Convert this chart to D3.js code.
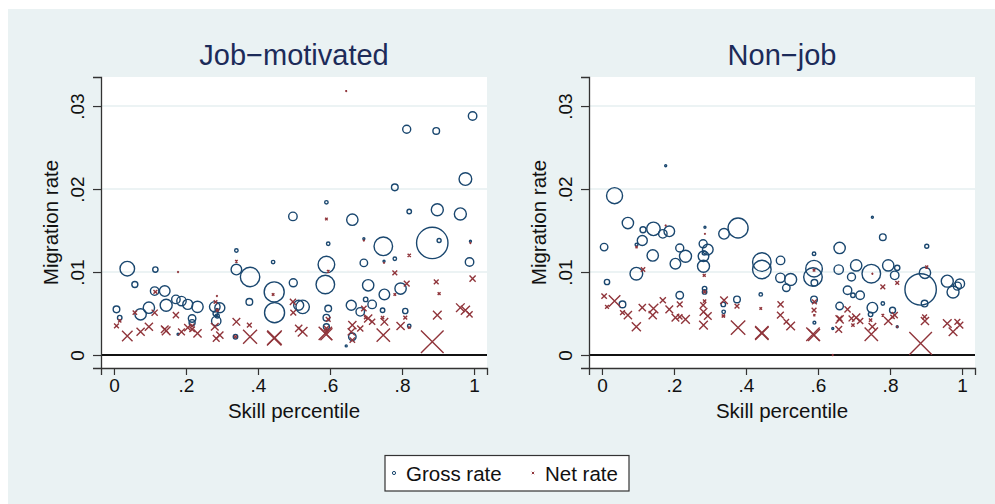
<!DOCTYPE html>
<html><head><meta charset="utf-8">
<script src="https://cdn.jsdelivr.net/npm/d3@7"></script>
<style>body{margin:0;background:#fff}text{font-family:"Liberation Sans",Arial,sans-serif}</style>
</head><body><svg id="c" width="995" height="504"></svg>
<script>
// ---- data ----
const yTicks = [0, 0.01, 0.02, 0.03];
const yTickLabels = ["0", ".01", ".02", ".03"];
const xTicks = [0, 0.2, 0.4, 0.6, 0.8, 1];
const xTickLabels = ["0", ".2", ".4", ".6", ".8", "1"];
const panelTitles = ["Job\u2212motivated", "Non\u2212job"];
const legendLabels = ["Gross rate", "Net rate"];

const jobSkill = [0.007,0.016,0.037,0.058,0.074,0.097,0.113,0.115,0.141,0.145,0.172,0.178,0.1875,0.205,0.217,0.217,0.232,0.280,0.294,0.282,0.284,0.286,0.287,0.3375,0.34,0.34,0.378,0.376,0.442,0.445,0.446,0.497,0.498,0.513,0.524,0.59,0.595,0.59,0.587,0.595,0.59,0.59,0.645,0.662,0.659,0.662,0.684,0.694,0.694,0.699,0.706,0.717,0.748,0.751,0.746,0.75,0.78,0.78,0.796,0.813,0.82,0.809,0.82,0.884,0.903,0.895,0.898,0.962,0.976,0.996,0.9875,0.99];
const jobGross = [0.0055,0.0045,0.0104,0.0085,0.0049,0.0057,0.0077,0.0103,0.0077,0.006,0.0067,0.0025,0.0065,0.0061,0.0044,0.0039,0.0058,0.0058,0.0057,0.005,0.0041,0.0055,0.0047,0.0022,0.0126,0.0103,0.0094,0.0064,0.0112,0.0076,0.0051,0.0167,0.0087,0.006,0.0058,0.0184,0.0134,0.0109,0.0085,0.0056,0.0045,0.0034,0.0011,0.0163,0.006,0.0022,0.0052,0.0111,0.014,0.0067,0.0084,0.0061,0.0131,0.0073,0.0054,0.0113,0.0202,0.0116,0.008,0.0272,0.0173,0.0053,0.0035,0.0135,0.0138,0.027,0.0175,0.017,0.0212,0.0288,0.0112,0.0137];
const jobNet = [0.0035,0.0041,0.0023,0.0051,0.0028,0.0034,0.0051,0.0076,0.0031,0.0029,0.0048,0.01,0.0028,0.0033,0.0031,0.0035,0.0026,0.0034,0.0024,0.0064,0.002,0.0071,0.0054,0.0022,0.0113,0.004,0.0022,0.0036,0.0073,0.002,0.0021,0.0064,0.0051,0.0032,0.0028,0.0164,0.0101,0.0025,0.0026,0.0043,0.0032,0.0029,0.0318,0.0036,0.0028,0.0018,0.0032,0.0056,0.0138,0.0045,0.0044,0.004,0.0024,0.004,0.0045,0.0111,0.0099,0.0073,0.0035,0.0086,0.012,0.0045,0.0033,0.0016,0.0074,0.0088,0.0048,0.0057,0.0054,0.0092,0.0049,0.0135];
const jobWeight = [11,5,53,9,32,32,18,7,28,36,18,1,22,25,14,9,32,28,25,6,22,1,4,5,3,28,94,11,3,100,100,18,16,25,45,3,3,69,86,11,11,9,1,32,25,14,18,14,1,5,32,18,86,28,5,1,11,3,32,16,5,7,3,246,4,11,36,36,40,18,18,1];

const nonSkill = [0.006,0.014,0.035,0.057,0.072,0.0955,0.096,0.114,0.112,0.141,0.143,0.169,0.187,0.177,0.216,0.232,0.204,0.216,0.282,0.282,0.281,0.284,0.285,0.285,0.286,0.294,0.339,0.378,0.337,0.338,0.375,0.444,0.444,0.441,0.496,0.4955,0.524,0.512,0.589,0.589,0.586,0.59,0.589,0.59,0.641,0.66,0.6575,0.66,0.682,0.693,0.697,0.706,0.717,0.748,0.751,0.746,0.751,0.78,0.78,0.795,0.82,0.813,0.807,0.82,0.885,0.902,0.897,0.896,0.959,0.975,0.994,0.987];
const nonGross = [0.013,0.0088,0.0192,0.0061,0.0159,0.0098,0.0133,0.0151,0.0138,0.012,0.0152,0.0146,0.0149,0.0228,0.0129,0.0119,0.011,0.0072,0.0107,0.0119,0.0134,0.0123,0.008,0.0076,0.0154,0.0127,0.0146,0.0153,0.0061,0.0052,0.0067,0.0112,0.0103,0.0073,0.0114,0.0093,0.0091,0.0081,0.0122,0.0104,0.0094,0.0087,0.0067,0.0039,0.0032,0.0129,0.0103,0.0059,0.0078,0.0094,0.0072,0.0108,0.0072,0.0098,0.0057,0.0049,0.0166,0.0142,0.0062,0.0108,0.0105,0.0096,0.0054,0.0034,0.0079,0.0131,0.0099,0.0062,0.0089,0.0076,0.0086,0.0083];
const nonNet = [0.0071,0.0058,0.0065,0.0051,0.0048,0.0034,0.013,0.0103,0.0057,0.0048,0.0056,0.0066,0.0055,0.0156,0.0061,0.0043,0.0045,0.0046,0.0036,0.0052,0.006,0.0096,0.0065,0.0076,0.0146,0.0047,0.0066,0.0033,0.0047,0.0047,0.0059,0.0026,0.0027,0.0056,0.0061,0.0048,0.0035,0.004,0.0102,0.0024,0.0025,0.0064,0.0054,0.0048,0.0,0.0043,0.0031,0.0044,0.0055,0.0044,0.0036,0.0045,0.0041,0.0025,0.0034,0.0042,0.0098,0.0082,0.0048,0.0041,0.0087,0.0048,0.0046,0.0034,0.0014,0.0106,0.0041,0.0046,0.0038,0.0028,0.0036,0.004];
const nonWeight = [14,7,64,11,32,40,2,9,25,32,45,18,28,1,16,36,28,14,36,28,16,4,5,5,1,28,28,100,5,3,11,86,86,3,18,22,36,14,3,69,86,11,11,2,1,32,22,14,18,16,5,32,18,86,28,5,1,11,3,32,7,18,9,1,246,4,32,11,36,36,22,16];

// ---- drawing ----
const NAVY = "#1a476f", MAROON = "#90353b", BG = "#eaf2f3";
const svg = d3.select("#c");
svg.append("rect").attr("x", 8).attr("y", 9).attr("width", 987).attr("height", 495).attr("fill", BG);

const W = 386, H = 291, TOP = 77;
const x = d3.scaleLinear().domain([-0.036, 1.036]).range([0, W]);
const y = d3.scaleLinear().domain([-0.001566, 0.0335]).range([H, 0]);
const r = d3.scaleSqrt().domain([0, 246]).range([0, 15.7]);

const panels = [
  {left: 101, title: panelTitles[0], skill: jobSkill, gross: jobGross, net: jobNet, wt: jobWeight},
  {left: 589, title: panelTitles[1], skill: nonSkill, gross: nonGross, net: nonNet, wt: nonWeight}
];

panels.forEach(p => {
  const g = svg.append("g").attr("transform", `translate(${p.left},${TOP})`);
  g.append("rect").attr("width", W).attr("height", H).attr("fill", "#fff");
  // gridlines
  g.selectAll("line.grid").data(yTicks.filter(v => v > 0)).enter().append("line")
    .attr("x1", 0).attr("x2", W).attr("y1", d => y(d)).attr("y2", d => y(d))
    .attr("stroke", "#e6eff1").attr("stroke-width", 1.6);
  // zero line
  g.append("line").attr("x1", 0).attr("x2", W).attr("y1", y(0)).attr("y2", y(0))
    .attr("stroke", "#111").attr("stroke-width", 2);

  const n = Math.min(p.skill.length, p.gross.length, p.net.length, p.wt.length);
  const idx = d3.range(n);
  // gross circles
  g.selectAll("circle.gross").data(idx).enter().append("circle")
    .attr("cx", i => x(p.skill[i])).attr("cy", i => y(p.gross[i])).attr("r", i => r(p.wt[i]))
    .attr("fill", "none").attr("stroke", NAVY).attr("stroke-width", 1.4);
  // net X markers
  g.selectAll("path.net").data(idx).enter().append("path")
    .attr("d", i => {
      const cx = x(p.skill[i]), cy = y(p.net[i]), s = Math.max(0.7, r(p.wt[i]) * 0.72);
      return `M${cx - s},${cy - s}L${cx + s},${cy + s}M${cx - s},${cy + s}L${cx + s},${cy - s}`;
    })
    .attr("fill", "none").attr("stroke", MAROON).attr("stroke-width", 1.4);

  // axes
  const ax = d3.axisBottom(x).tickValues(xTicks).tickFormat((d, i) => xTickLabels[i]).tickSize(7).tickPadding(4);
  const gx = g.append("g").attr("transform", `translate(0,${H})`).call(ax);
  gx.select(".domain").attr("stroke", "#333").attr("stroke-width", 1.3);
  gx.selectAll(".tick line").attr("stroke", "#333").attr("stroke-width", 1.2);
  gx.selectAll(".tick text").attr("font-size", 19).attr("fill", "#111")
    .attr("font-family", '"Liberation Sans",Arial,sans-serif');

  const ay = d3.axisLeft(y).tickValues(yTicks).tickFormat((d, i) => yTickLabels[i]).tickSize(8).tickPadding(4);
  const gy = g.append("g").call(ay);
  gy.select(".domain").attr("stroke", "#333").attr("stroke-width", 1.3);
  gy.selectAll(".tick line").attr("stroke", "#333").attr("stroke-width", 1.2);
  gy.selectAll(".tick text").attr("font-size", 19).attr("fill", "#111")
    .attr("font-family", '"Liberation Sans",Arial,sans-serif')
    .attr("text-anchor", "middle").attr("dy", 0)
    .attr("transform", "translate(-17,0) rotate(-90)").attr("x", 0).attr("y", 0);

  // titles
  g.append("text").attr("x", W / 2).attr("y", 64.5 - TOP).attr("text-anchor", "middle")
    .attr("font-size", 29).attr("fill", "#1c2b59").text(p.title);
  g.append("text").attr("text-anchor", "middle").attr("font-size", 20.5).attr("fill", "#111")
    .attr("transform", `translate(-43,${H / 2}) rotate(-90)`).text("Migration rate");
  g.append("text").attr("x", W / 2).attr("y", 418 - TOP).attr("text-anchor", "middle")
    .attr("font-size", 20.5).attr("fill", "#111").text("Skill percentile");
});

// legend
const lg = svg.append("g");
lg.append("rect").attr("x", 385).attr("y", 455.5).attr("width", 244).attr("height", 35.5)
  .attr("fill", "#fff").attr("stroke", "#333").attr("stroke-width", 1.2);
lg.append("circle").attr("cx", 394).attr("cy", 473).attr("r", 1.6).attr("fill", "none")
  .attr("stroke", NAVY).attr("stroke-width", 1);
lg.append("path").attr("d", "M531.8,471.8L534.2,474.2M531.8,474.2L534.2,471.8")
  .attr("stroke", MAROON).attr("stroke-width", 1);
lg.append("text").attr("x", 406).attr("y", 481).attr("font-size", 20.5).attr("fill", "#111").text(legendLabels[0]);
lg.append("text").attr("x", 545).attr("y", 481).attr("font-size", 20.5).attr("fill", "#111").text(legendLabels[1]);
</script></body></html>
